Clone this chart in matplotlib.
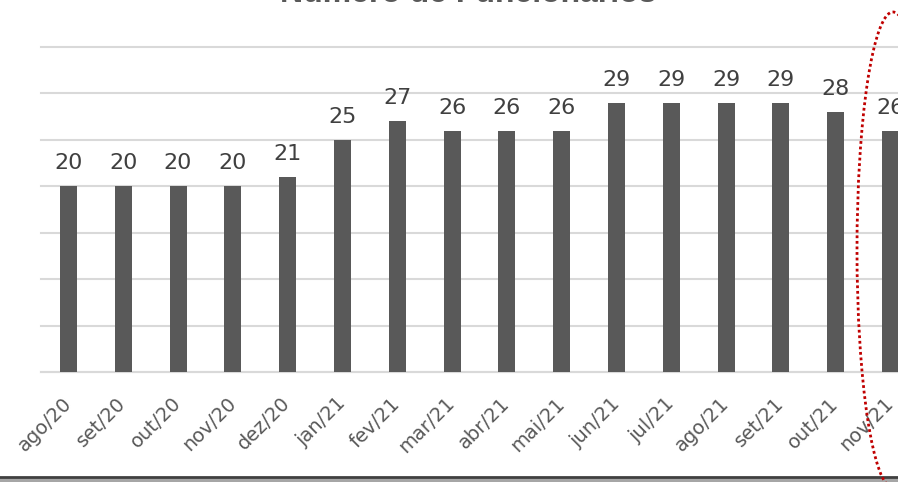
import matplotlib
matplotlib.use("Agg")
import matplotlib.pyplot as plt
from matplotlib.patches import Ellipse, Rectangle

months = ["ago/20", "set/20", "out/20", "nov/20", "dez/20", "jan/21", "fev/21",
          "mar/21", "abr/21", "mai/21", "jun/21", "jul/21", "ago/21", "set/21",
          "out/21", "nov/21"]
funcionarios = [20, 20, 20, 20, 21, 25, 27, 26, 26, 26, 29, 29, 29, 29, 28, 26]

W, H = 898, 482
fig = plt.figure(figsize=(W / 100, H / 100), dpi=100)
# axes runs past the right edge of the picture, as in the source screenshot
ax = fig.add_axes([41 / W, (H - 372) / H, 877 / W, 325 / H])

x = range(len(months))
ax.bar(x, funcionarios, width=0.31, color="#595959", zorder=3)
for i, v in zip(x, funcionarios):
    ax.text(i, v + 1.4, str(v), ha="center", va="bottom", fontsize=16,
            color="#404040", zorder=4)

ax.set_xlim(-0.5, len(months) - 0.5)
ax.set_ylim(0, 35)
ax.set_yticks(range(0, 36, 5))
ax.yaxis.grid(True, color="#d9d9d9", linewidth=1.5, zorder=0)
for gl in ax.get_ygridlines():
    gl.set_clip_on(False)
ax.tick_params(axis="y", left=False, labelleft=False)
ax.tick_params(axis="x", bottom=False, pad=17)
ax.set_xticks(list(x))
ax.set_xticklabels(months, rotation=45, ha="right", va="center",
                   rotation_mode="anchor", fontsize=14, color="#595959")
for s in ["top", "right", "left"]:
    ax.spines[s].set_visible(False)
ax.spines["bottom"].set_color("#d9d9d9")
ax.spines["bottom"].set_linewidth(1.5)

fig.text(468 / W, 1 - 2 / H, "Número de Funcionários", ha="center", va="baseline",
         fontsize=23, fontweight="bold", color="#595959", family="Liberation Sans")

# dark strip at the bottom of the screenshot
fig.patches.append(Rectangle((0, 0), 1, 5 / H, transform=fig.transFigure,
                             facecolor="#a6a6a6", edgecolor="none"))
fig.add_artist(plt.Line2D([0, 1], [5 / H, 5 / H], transform=fig.transFigure,
                          color="#404040", linewidth=2))

# red dotted highlight around the last month
fig.add_artist(Ellipse((893 / W, 1 - 250 / H), 72 / W, 476 / H,
                       transform=fig.transFigure, fill=False,
                       edgecolor="#c00000", linestyle=(0, (1, 1)),
                       linewidth=2, zorder=10))

fig.savefig("out.png", dpi=100)
